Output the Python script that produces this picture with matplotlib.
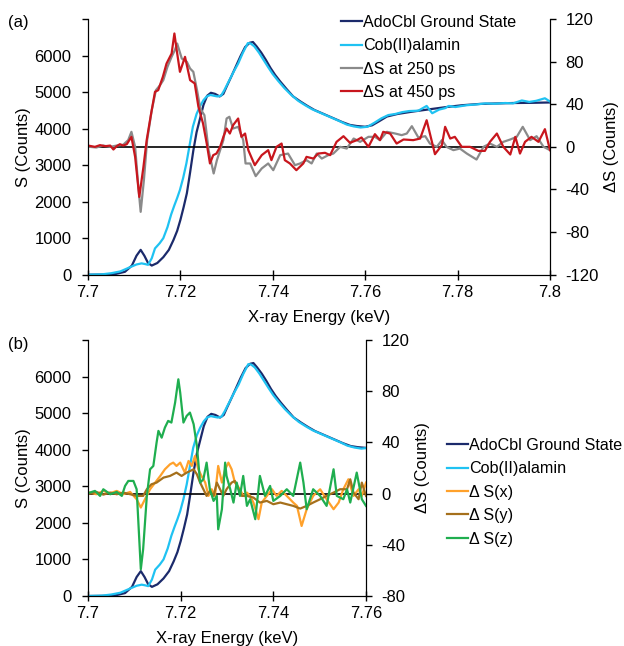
import matplotlib
matplotlib.use('Agg')
import matplotlib.pyplot as plt
from matplotlib.ticker import FixedLocator, FixedFormatter

plt.rcParams['font.family'] = ['Liberation Sans', 'DejaVu Sans']
plt.rcParams['font.size'] = 12
plt.rcParams['axes.unicode_minus'] = False

# ground state and cob(II)alamin spectra, S (counts) vs energy (keV)
ado_e = [7.700, 7.704, 7.706, 7.708, 7.7095, 7.7105, 7.7114, 7.7122, 7.7130, 7.7138,
         7.7150, 7.7163, 7.7175, 7.7185, 7.7193, 7.7200, 7.7207, 7.7214, 7.7221, 7.7228,
         7.7235, 7.7242, 7.7250, 7.7258, 7.7266, 7.7275, 7.7285, 7.7293, 7.7300, 7.7310,
         7.7320, 7.7330, 7.7340, 7.7350, 7.7357, 7.7365, 7.7375, 7.7385, 7.7395, 7.7405,
         7.7416, 7.7430, 7.7444, 7.7460, 7.7475, 7.7490, 7.7510, 7.7530, 7.7550, 7.7567,
         7.7582, 7.7600, 7.7615, 7.7630, 7.7647, 7.7670, 7.7700, 7.7740, 7.7776, 7.7810,
         7.7848, 7.7890, 7.7920, 7.7960, 7.8000]
ado_s = [0, 5, 20, 80, 250, 520, 680, 520, 320, 250,
         320, 480, 680, 950, 1200, 1500, 1850, 2230, 2800, 3400,
         3900, 4250, 4650, 4900, 4980, 4950, 4880, 4950, 5150, 5420,
         5700, 5980, 6230, 6350, 6370, 6250, 6080, 5880, 5660, 5470,
         5290, 5080, 4880, 4740, 4620, 4510, 4400, 4290, 4180, 4100,
         4070, 4050, 4090, 4200, 4330, 4400, 4460, 4530, 4590, 4640,
         4675, 4690, 4700, 4705, 4715]

cob_e = [7.700, 7.703, 7.705, 7.707, 7.709, 7.7105, 7.7116, 7.7124, 7.7130, 7.7138,
         7.7145, 7.7155, 7.7163, 7.7172, 7.7180, 7.7187, 7.7193, 7.7199, 7.7206, 7.7213,
         7.7220, 7.7227, 7.7235, 7.7242, 7.7250, 7.7257, 7.7265, 7.7272, 7.7280, 7.7288,
         7.7295, 7.7305, 7.7315, 7.7325, 7.7335, 7.7346, 7.7352, 7.7360, 7.7370, 7.7380,
         7.7390, 7.7400, 7.7412, 7.7425, 7.7440, 7.7455, 7.7470, 7.7485, 7.7505, 7.7525,
         7.7545, 7.7560, 7.7575, 7.7590, 7.7605, 7.7620, 7.7635, 7.7650, 7.7665, 7.7680,
         7.7695, 7.7715, 7.7733, 7.7745, 7.7760, 7.7773, 7.7781, 7.7795, 7.7820, 7.7840,
         7.7860, 7.7880, 7.7903, 7.7920, 7.7939, 7.7955, 7.7970, 7.7989, 7.8000]
cob_s = [0, 10, 40, 90, 200, 280, 310, 290, 270, 450,
         720, 860, 1000, 1300, 1650, 1900, 2100, 2320, 2650, 3050,
         3550, 4050, 4400, 4600, 4780, 4880, 4920, 4900, 4880, 4900,
         5050, 5300, 5550, 5780, 6070, 6340, 6330, 6250, 6080, 5880,
         5680, 5490, 5300, 5110, 4920, 4760, 4640, 4530, 4420, 4310,
         4200, 4110, 4060, 4030, 4050, 4160, 4280, 4370, 4400, 4450,
         4480, 4490, 4620, 4420, 4520, 4560, 4620, 4590, 4640, 4660,
         4690, 4680, 4700, 4690, 4770, 4730, 4760, 4830, 4740]

# difference spectra, top panel
d250_e = [7.7004, 7.7018, 7.7033, 7.7048, 7.7062, 7.7076, 7.7087, 7.7094, 7.7102, 7.7109,
          7.7114, 7.7121, 7.7128, 7.7138, 7.7147, 7.7156, 7.7163, 7.7172, 7.7181, 7.7188,
          7.7193, 7.7203, 7.7214, 7.7221, 7.7228, 7.7236, 7.7243, 7.7252, 7.7261, 7.7272,
          7.7279, 7.7286, 7.7293, 7.7300, 7.7306, 7.7314, 7.7325, 7.7336, 7.7341, 7.7351,
          7.7363, 7.7376, 7.7390, 7.7401, 7.7416, 7.7433, 7.7448, 7.7459, 7.7473, 7.7484,
          7.7495, 7.7506, 7.7520, 7.7531, 7.7546, 7.7560, 7.7575, 7.7589, 7.7607, 7.7621,
          7.7632, 7.7647, 7.7665, 7.7679, 7.7690, 7.7701, 7.7715, 7.7730, 7.7740, 7.7755,
          7.7766, 7.7776, 7.7791, 7.7805, 7.7820, 7.7841, 7.7856, 7.7870, 7.7885, 7.7899,
          7.7914, 7.7928, 7.7941, 7.7957, 7.7971, 7.7986, 7.8000]
d250_s = [0, -0.6, 1.2, 0, 1.2, 1.9, 6.3, 14.1, 0, -37.6,
          -61, -31.3, 6.3, 34.4, 53.2, 57.9, 62.6, 75.1, 84.5, 90.8,
          97, 82.9, 79.8, 73.5, 70.4, 53.2, 36, 29.7, -3.1, -25,
          -12.5, -3.1, 6.3, 26.6, 28.2, 17.2, 18.8, 6.3, -15.6, -15.6,
          -27.5, -20.3, -15.6, -21.9, -7.8, -6.3, -17.2, -15.6, -12.5, -15.6,
          -6.3, -11, -7.8, -6.3, 0, -1.6, 7.8, 4.7, 9.4, 9.4,
          6.3, 14.1, 12.5, 11, 12.5, 19.4, 8.8, 10, 3.1, 0,
          6.3, 0, -3.1, -1.6, -6.3, -11.9, 0, 3.1, 0, 4.7,
          6.9, 9.4, 18.8, 6.3, 10, 0, -3.1]

d450_e = [7.7004, 7.7015, 7.7026, 7.7037, 7.7048, 7.7055, 7.7062, 7.7069, 7.7076, 7.7084,
          7.7094, 7.7102, 7.7111, 7.7120, 7.7127, 7.7136, 7.7145, 7.7152, 7.7162, 7.7170,
          7.7181, 7.7187, 7.7192, 7.7199, 7.7210, 7.7221, 7.7231, 7.7239, 7.7249, 7.7257,
          7.7264, 7.7271, 7.7278, 7.7286, 7.7293, 7.7300, 7.7307, 7.7314, 7.7325, 7.7332,
          7.7340, 7.7347, 7.7361, 7.7376, 7.7390, 7.7397, 7.7408, 7.7419, 7.7426, 7.7437,
          7.7451, 7.7466, 7.7473, 7.7488, 7.7498, 7.7513, 7.7524, 7.7538, 7.7553, 7.7567,
          7.7582, 7.7592, 7.7607, 7.7621, 7.7632, 7.7639, 7.7654, 7.7668, 7.7683, 7.7704,
          7.7719, 7.7733, 7.7751, 7.7766, 7.7773, 7.7784, 7.7794, 7.7809, 7.7827, 7.7845,
          7.7859, 7.7870, 7.7885, 7.7899, 7.7914, 7.7925, 7.7935, 7.7946, 7.7960, 7.7975,
          7.7989, 7.8000]
d450_s = [0.9, 0, 1.6, 0.6, 1.2, -2.5, 0.6, 2.5, 1.2, 2.5,
          9.4, -9.4, -47, -18.8, 6.3, 29.7, 51.6, 53.2, 65.7, 78.2,
          87.6, 106.4, 90.8, 70.4, 84.5, 62.6, 59.5, 37.6, 21.9, 3.1,
          -15.6, -7.8, -6.3, 0, 9.4, 17.2, 12.5, 20.3, 26.6, 9.4,
          12.5, -3.1, -17.2, -7.8, -3.1, -12.5, 0, 3.1, -12.5, -15.6,
          -21.9, -15.6, -9.4, -11, -6.3, -5.6, -7.8, 4.7, 10, 3.8,
          6.3, 8.8, 0, 11.9, 6.3, 14.1, 12.5, 3.1, 6.9, 6.3,
          7.8, 25, -6.9, 1.6, 18.8, 7.8, 9.4, 0, 0, -3.8,
          -3.8, 4.7, 12.5, 0, -7.2, 9.4, -6.3, 4.7, 9.4, 4.7,
          16.6, -3.1]

# polarisation-resolved difference spectra, bottom panel
dx_e = [7.7004, 7.7018, 7.7033, 7.7048, 7.7062, 7.7076, 7.7091, 7.7105, 7.7114, 7.7123,
        7.7134, 7.7145, 7.7156, 7.7166, 7.7177, 7.7184, 7.7191, 7.7199, 7.7209, 7.7217,
        7.7224, 7.7231, 7.7238, 7.7245, 7.7253, 7.7260, 7.7267, 7.7274, 7.7281, 7.7289,
        7.7296, 7.7303, 7.7310, 7.7317, 7.7328, 7.7335, 7.7343, 7.7350, 7.7357, 7.7368,
        7.7375, 7.7386, 7.7397, 7.7407, 7.7418, 7.7429, 7.7443, 7.7451, 7.7461, 7.7472,
        7.7486, 7.7501, 7.7515, 7.7530, 7.7541, 7.7551, 7.7562, 7.7573, 7.7584, 7.7591,
        7.7600]
dx_s = [0.8, -0.5, 2.1, 0.3, 2.1, -0.5, 1.3, -4.4, -10.9, -4.4,
        3.4, 8.6, 13.8, 19, 22.9, 24.2, 21.6, 24.2, 16.4, 25.5,
        21.6, 29.4, 19, 13.8, 8.6, -1.8, 3.4, -1.8, 21.6, 8.6,
        19, 24.2, 19, 8.6, 3.4, -1.8, 0.8, -1.8, -7, -20,
        -7, -1.8, 3.4, -1.8, 2.1, -1.8, -7, -9.6, -25.3, -12.2,
        -1.8, 3.4, -4.4, -12.2, -7, 3.4, 11.2, -1.8, 3.4, -1.8,
        8.6]

dy_e = [7.7004, 7.7018, 7.7033, 7.7048, 7.7062, 7.7076, 7.7091, 7.7105, 7.7119, 7.7127,
        7.7137, 7.7148, 7.7163, 7.7177, 7.7191, 7.7202, 7.7213, 7.7228, 7.7235, 7.7242,
        7.7249, 7.7256, 7.7263, 7.7271, 7.7278, 7.7285, 7.7292, 7.7299, 7.7310, 7.7317,
        7.7325, 7.7332, 7.7343, 7.7357, 7.7371, 7.7386, 7.7400, 7.7415, 7.7429, 7.7443,
        7.7458, 7.7472, 7.7486, 7.7501, 7.7515, 7.7530, 7.7544, 7.7559, 7.7566, 7.7573,
        7.7584, 7.7591, 7.7600]
dy_s = [0, 1.3, -0.8, 0.8, -0.5, 0.8, -0.5, -1.8, -1.8, 3.4,
        7.3, 8.6, 12.5, 13.8, 16.4, 13.8, 16.4, 19, 15.1, 8.6,
        3.4, -1.8, 2.1, -1.8, 8.6, 3.4, -1.8, 3.4, 8.6, 9.9,
        3.4, -1.8, -1.8, -3.1, -7, -5.7, -8.3, -7, -8.3, -9.6,
        -11.7, -9.6, -7, -4.4, -1.8, 0.8, 3.4, 3.4, 11.2, 0.8,
        -4.4, 8.6, -1.8]

dz_e = [7.7004, 7.7015, 7.7026, 7.7033, 7.7048, 7.7062, 7.7073, 7.7080, 7.7087, 7.7098,
        7.7105, 7.7111, 7.7114, 7.7119, 7.7127, 7.7134, 7.7141, 7.7148, 7.7152, 7.7159,
        7.7166, 7.7173, 7.7180, 7.7188, 7.7195, 7.7199, 7.7206, 7.7213, 7.7220, 7.7228,
        7.7235, 7.7242, 7.7249, 7.7256, 7.7263, 7.7271, 7.7278, 7.7281, 7.7289, 7.7296,
        7.7299, 7.7307, 7.7314, 7.7321, 7.7328, 7.7335, 7.7343, 7.7350, 7.7361, 7.7371,
        7.7382, 7.7393, 7.7400, 7.7415, 7.7429, 7.7443, 7.7458, 7.7465, 7.7472, 7.7486,
        7.7501, 7.7515, 7.7530, 7.7537, 7.7551, 7.7559, 7.7566, 7.7580, 7.7591, 7.7600]
dz_s = [0.8, 2.1, -1.8, 3.4, -0.5, 1.3, -1.8, 6, 9.9, 9.9,
        3.4, -38.3, -59.1, -43.5, -1.8, 19, 21.6, 39.8, 49, 43.7,
        51.6, 56.8, 55.5, 71.1, 89.3, 78.9, 55.5, 60.7, 63.3, 54.2,
        37.2, 8.6, 11.2, 24.2, 3.4, -5.7, -1.8, -27.9, -12.2, 24.2,
        13.8, 3.4, -7, 8.6, -1.8, 13.8, -9.6, -4.4, -20, 13.8,
        -1.8, 6, -5.7, -1.8, 3.4, -1.8, 24.2, 8.6, -12.2, 3.4,
        -1.8, -9.6, 19, -1.8, -4.4, 3.4, -7, 16.4, -4.4, -9.6]

ticks_a = [7.70, 7.72, 7.74, 7.76, 7.78, 7.80]
labels_a = ['7.7', '7.72', '7.74', '7.76', '7.78', '7.8']
ticks_b = [7.70, 7.72, 7.74, 7.76]
labels_b = ['7.7', '7.72', '7.74', '7.76']

NAVY = '#1b2a6b'
CYAN = '#1fc2f2'
GREY = '#8a8a8a'
RED = '#c8161d'
ORANGE = '#ffa12b'
BROWN = '#a5701c'
GREEN = '#1fae4f'

W, H = 624, 646
fig = plt.figure(figsize=(W / 100, H / 100), dpi=100)


def make_panel(rect, xlim, ticks, labels, dlim, dticks):
    ax = fig.add_axes(rect)
    ax2 = ax.twinx()
    for a in (ax, ax2):
        a.spines['top'].set_visible(False)
        a.patch.set_visible(False)
    ax.set_xlim(*xlim)
    ax.set_ylim(0, 7000)
    ax.yaxis.set_major_locator(FixedLocator(range(0, 7001, 1000)))
    ax.set_yticklabels([str(v) if v < 7000 else '' for v in range(0, 7001, 1000)])
    ax.xaxis.set_major_locator(FixedLocator(ticks))
    ax.xaxis.set_major_formatter(FixedFormatter(labels))
    ax2.set_ylim(*dlim)
    ax2.yaxis.set_major_locator(FixedLocator(dticks))
    ax.tick_params(axis='x', direction='inout', length=7, width=1, pad=4)
    ax.tick_params(axis='y', direction='out', length=4, width=1, pad=8)
    ax2.tick_params(axis='y', direction='out', length=4, width=1, pad=7)
    ax.set_xlabel('X-ray Energy (keV)', labelpad=7)
    ax.set_ylabel('S (Counts)', labelpad=2)
    ax2.set_ylabel('\u0394S (Counts)', labelpad=4)
    ax2.axhline(0, color='black', lw=1.2, zorder=1)
    return ax, ax2


legend_kw = dict(loc='upper left', bbox_transform=fig.transFigure, frameon=False,
                 borderpad=0, borderaxespad=0, handlelength=1.3, handletextpad=0.05,
                 labelspacing=0.52, fontsize=11.6)

# (a) ground state vs cob(II)alamin with time-delayed differences
ax, ax2 = make_panel([88 / W, 1 - 274.7 / H, 462 / W, 255.7 / H],
                     (7.7, 7.8), ticks_a, labels_a, (-120, 120),
                     [-120, -80, -40, 0, 40, 80, 120])
h1, = ax.plot(ado_e, ado_s, color=NAVY, lw=1.6, label='AdoCbl Ground State')
h2, = ax.plot(cob_e, cob_s, color=CYAN, lw=1.6, label='Cob(II)alamin')
h3, = ax2.plot(d250_e, d250_s, color=GREY, lw=1.6, label='\u0394S at 250 ps')
h4, = ax2.plot(d450_e, d450_s, color=RED, lw=1.6, label='\u0394S at 450 ps')
ax2.legend(handles=[h1, h2, h3, h4], bbox_to_anchor=(341 / W, 1 - 15 / H), **legend_kw)
fig.text(8 / W, 1 - 22 / H, '(a)', va='center', ha='left')

# (b) polarisation-resolved differences
bx, bx2 = make_panel([88 / W, 1 - 596 / H, 278 / W, 256 / H],
                     (7.7, 7.76), ticks_b, labels_b, (-80, 120),
                     [-80, -40, 0, 40, 80, 120])
g1, = bx.plot(ado_e, ado_s, color=NAVY, lw=1.6, label='AdoCbl Ground State')
g2, = bx.plot(cob_e, cob_s, color=CYAN, lw=1.6, label='Cob(II)alamin')
g3, = bx2.plot(dx_e, dx_s, color=ORANGE, lw=1.6, label='\u0394 S(x)')
g4, = bx2.plot(dy_e, dy_s, color=BROWN, lw=1.6, label='\u0394 S(y)')
g5, = bx2.plot(dz_e, dz_s, color=GREEN, lw=1.6, label='\u0394 S(z)')
bx2.legend(handles=[g1, g2, g3, g4, g5], bbox_to_anchor=(447 / W, 1 - 438 / H), **legend_kw)
fig.text(8 / W, 1 - 344 / H, '(b)', va='center', ha='left')

fig.savefig('out.png', dpi=100)
